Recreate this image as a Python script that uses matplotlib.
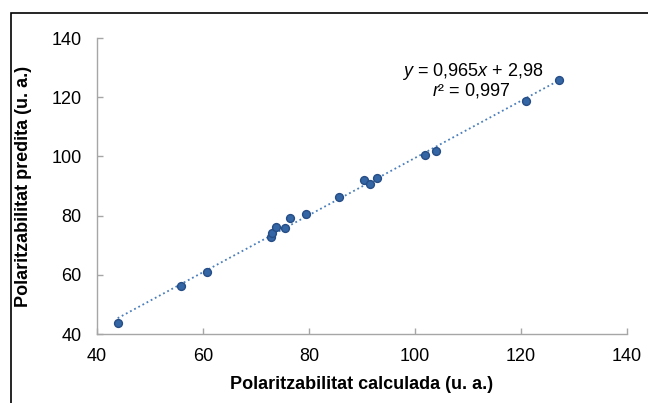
import matplotlib
matplotlib.use("Agg")
import matplotlib.pyplot as plt
from matplotlib.patches import Rectangle
import numpy as np

plt.rcParams["font.family"] = ["Liberation Sans", "DejaVu Sans"]
plt.rcParams["mathtext.fontset"] = "custom"
plt.rcParams["mathtext.rm"] = "Liberation Sans"
plt.rcParams["mathtext.it"] = "Liberation Sans:italic"

# calculated vs predicted polarizability
calculada = [43.9, 55.9, 60.7, 72.9, 73.1, 73.7, 75.4, 76.4, 79.5, 85.7,
             90.3, 91.5, 92.9, 101.8, 104.0, 120.9, 127.1]
predita = [43.6, 56.1, 60.9, 72.9, 74.0, 76.1, 75.7, 79.3, 80.6, 86.2,
           91.9, 90.7, 92.8, 100.4, 101.7, 118.7, 125.8]
slope, intercept = 0.965, 2.98
ticks = [40, 60, 80, 100, 120, 140]

GREY = "#a6a6a6"

fig = plt.figure(figsize=(6.48, 4.03), dpi=100)
ax = fig.add_axes([0.1497, 0.1712, 0.8179, 0.7345])

# chart area border (only left/top visible in the reference)
fig.patches.append(Rectangle((11 / 648, -0.1), 1.2, 1.1 - 13 / 403,
                             transform=fig.transFigure, fill=False,
                             edgecolor="#000000", linewidth=1.2))

xs = np.array([min(calculada), max(calculada)])
ax.plot(xs, slope * xs + intercept, linestyle=(0, (1, 1.6)), color="#4a7ebb",
        linewidth=1.3, zorder=2)
ax.scatter(calculada, predita, s=32, color="#3465a4", edgecolors="#264e86",
           linewidths=1.0, zorder=3)

ax.set_xlim(40, 140)
ax.set_ylim(40, 140)
ax.set_xticks(ticks)
ax.set_yticks(ticks)
for side in ("top", "right"):
    ax.spines[side].set_visible(False)
for side in ("left", "bottom"):
    ax.spines[side].set_color(GREY)
    ax.spines[side].set_linewidth(1.0)
ax.tick_params(axis="both", direction="in", length=4, width=1.0, color=GREY,
               labelsize=13, labelcolor="#000000")
ax.tick_params(axis="x", pad=10)
ax.tick_params(axis="y", pad=11)

ax.set_xlabel("Polaritzabilitat calculada (u. a.)", fontsize=13,
              fontweight="bold", labelpad=8)
ax.set_ylabel("Polaritzabilitat predita (u. a.)", fontsize=13,
              fontweight="bold", labelpad=14)

ax.text(110.8, 128.6, "$y$ = 0,965$x$ + 2,98", fontsize=13, ha="center",
        va="center")
ax.text(110.6, 122.2, "$r$² = 0,997", fontsize=13, ha="center", va="center")

fig.savefig("out.png", dpi=100)
